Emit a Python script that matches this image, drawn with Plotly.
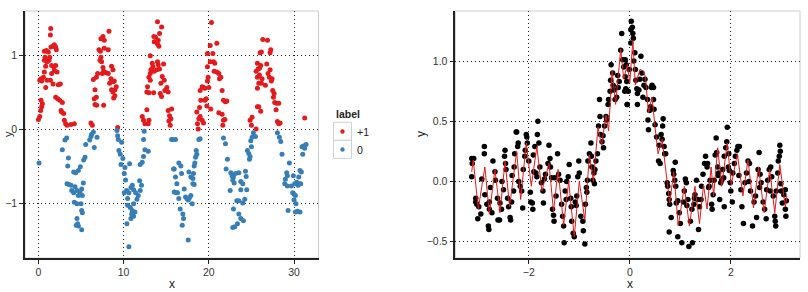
import plotly.graph_objects as go

# ---------------- Left panel data (label +1 / 0) ----------------
pos_x = [0.0, 0.16, 0.27, 0.39, 0.47, 0.31, 0.16, 0.31, 0.39, 0.59, 0.86, 1.02, 0.70, 0.86, 0.70, 0.78,
         0.70, 0.94, 1.17, 1.09, 1.25, 1.02, 1.33, 1.48, 1.72, 1.88, 2.03, 2.11, 1.41, 1.45, 1.56, 1.80,
         2.03, 1.88, 2.19, 1.56, 1.72, 1.41, 2.34, 2.58, 2.03, 2.27, 2.50, 2.81, 2.66, 2.73, 2.97, 3.05,
         3.20, 3.36, 3.83, 4.22,
         6.17, 6.33, 6.64, 6.84, 7.66, 6.56, 6.80, 6.64, 6.45, 6.80, 6.95, 7.23, 7.42, 7.34, 7.58, 7.66,
         7.50, 7.11, 7.27, 7.73, 8.20, 7.34, 7.58, 7.73, 8.28, 7.97, 8.20, 8.52, 8.75, 8.91, 8.36, 8.59,
         8.75, 8.98, 9.14, 8.83, 8.98, 8.75, 8.59, 9.30,
         12.19, 12.34, 12.50, 12.73, 12.97, 12.89, 12.81, 12.73, 12.97, 13.13, 12.97, 13.13, 13.20, 13.44,
         13.36, 13.59, 13.91, 14.06, 14.22, 13.98, 13.13, 13.52, 14.30, 14.45, 14.69, 14.77, 14.84, 15.08,
         15.23, 14.38, 14.53, 13.98, 14.22, 14.06, 13.98, 14.14, 13.75, 13.59, 15.23, 15.39, 15.55, 15.31,
         15.47, 15.63, 14.46, 13.55,
         18.75, 18.67, 18.83, 18.98, 19.22, 19.38, 18.59, 18.91, 19.06, 19.53, 19.69, 19.77, 18.98, 19.22,
         19.53, 19.38, 19.84, 19.92, 20.00, 20.23, 19.84, 20.16, 20.55, 20.70, 20.62, 20.94, 21.17, 21.25,
         21.41, 19.84, 20.47, 20.16, 20.94, 20.31, 21.56, 21.72, 21.95, 22.11, 21.17, 21.56, 21.72, 21.88,
         21.64,
         24.84, 25.08, 25.00, 25.55, 25.70, 25.86, 26.09, 25.70, 25.86, 25.70, 25.55, 25.78, 25.94, 26.09,
         25.70, 25.94, 26.17, 26.25, 26.64, 26.80, 26.95, 27.11, 27.19, 27.34, 27.42, 26.02, 26.17, 26.33,
         26.88, 27.19, 27.27, 27.50, 27.66, 27.58, 27.73, 27.97, 28.20, 27.89, 28.05, 28.20, 28.36, 31.25]
pos_y = [0.13, 0.17, 0.25, 0.30, 0.34, 0.39, 0.66, 0.68, 0.65, 0.70, 0.56, 0.66, 0.77, 0.85, 0.93, 0.97,
         1.05, 1.06, 1.04, 0.93, 0.93, 0.91, 0.97, 1.11, 1.12, 1.14, 1.11, 1.07, 1.27, 1.36, 0.86, 0.84,
         0.86, 0.79, 0.77, 0.75, 0.61, 0.66, 0.60, 0.61, 0.43, 0.41, 0.39, 0.36, 0.25, 0.23, 0.21, 0.12,
         0.07, 0.05, 0.06, 0.07,
         0.08, 0.05, 0.33, 0.32, 0.32, 0.41, 0.43, 0.53, 0.67, 0.70, 0.75, 0.93, 0.91, 0.97, 0.83, 0.78,
         0.75, 1.07, 1.05, 1.09, 1.07, 1.22, 1.25, 1.20, 1.32, 0.76, 0.75, 0.68, 0.64, 0.65, 0.62, 0.53,
         0.50, 0.53, 0.57, 0.42, 0.45, 0.80, 0.85, 0.02,
         0.17, 0.12, 0.07, 0.26, 0.12, 0.07, 0.57, 0.50, 0.49, 0.66, 0.70, 0.75, 0.80, 0.84,
         0.89, 0.78, 0.80, 0.87, 0.81, 0.91, 0.99, 0.49, 0.48, 0.44, 0.88, 0.66, 0.52, 0.56,
         0.50, 0.62, 0.71, 1.45, 1.29, 1.20, 1.15, 1.12, 1.24, 1.18, 0.25, 0.18, 0.14, 0.11,
         0.05, 0.27, 1.38, 1.25,
         0.00, 0.07, 0.14, 0.17, 0.12, 0.08, 0.23, 0.29, 0.39, 0.39, 0.41, 0.31, 0.52, 0.57,
         0.55, 0.56, 0.65, 0.70, 0.56, 0.27, 0.84, 0.91, 0.91, 0.89, 0.78, 0.77, 0.75, 0.68,
         0.70, 1.02, 1.02, 1.13, 1.16, 1.44, 0.52, 0.39, 0.37, 0.38, 0.22, 0.20, 0.12, 0.13,
         0.05,
         0.12, 0.16, 0.05, 0.00, 0.30, 0.30, 0.24, 0.55, 0.62, 0.70, 0.78, 0.81, 0.82, 0.86,
         0.89, 0.73, 0.62, 0.68, 0.59, 0.88, 0.75, 0.70, 0.80, 0.65, 0.68, 1.03, 1.04, 1.21,
         1.20, 1.03, 1.07, 0.52, 0.48, 0.43, 0.36, 0.35, 0.35, 0.26, 0.10, 0.07, 0.08, 0.15]

neg_x = [0.08, 2.81, 3.12, 3.32, 3.52, 3.44, 4.14, 4.38, 4.69, 4.92, 5.31, 5.47, 5.55, 6.02, 6.25, 6.45,
         6.17, 6.56, 6.88, 3.36, 3.59, 3.83, 3.91, 4.14, 4.30, 4.53, 4.69, 4.88, 5.08, 5.27, 5.16, 4.22,
         4.53, 5.00, 5.08, 5.16, 4.53, 4.61, 4.45, 4.69, 5.08,
         9.22, 9.30, 9.38, 9.77, 9.45, 9.61, 9.92, 9.69, 10.70, 10.16, 10.08, 10.23, 10.08, 10.35, 10.62,
         10.86, 11.02, 11.17, 11.41, 11.56, 11.72, 11.95, 12.10, 11.88, 11.95, 12.19, 12.34, 12.50, 12.34,
         12.42, 12.89, 10.47, 10.78, 11.02, 10.94, 11.17, 11.33, 10.86, 10.39, 10.62, 10.47, 11.17,
         15.63, 15.86, 15.94,
         15.78, 16.09, 15.94, 16.09, 16.25, 16.17, 16.33, 16.48, 16.72, 16.80, 16.48, 16.64, 16.95, 17.03,
         16.88, 17.11, 17.27, 17.42, 17.58, 17.73, 17.89, 18.05, 17.58, 17.66, 17.89, 18.13, 18.13, 18.28,
         18.20, 18.28, 18.36, 18.44, 18.59, 18.52, 18.83, 18.98,
         21.72, 21.95, 22.19, 22.03, 22.58, 22.73, 22.89, 22.81, 22.97, 22.50, 23.13, 23.52, 23.75, 23.98,
         23.75, 24.30, 24.38, 24.45, 23.28, 23.52, 23.98, 24.22, 22.89, 23.52, 23.75, 24.06, 23.36, 23.05,
         22.81, 24.53, 24.69, 24.84, 24.77, 25.00, 24.92, 25.08, 25.23, 25.47,
         28.05, 28.28, 28.44, 28.59, 29.45, 29.14, 29.22, 28.98, 28.91, 29.22, 29.30, 29.69, 29.84, 30.00,
         30.16, 30.00, 30.23, 29.92, 30.08, 30.31, 30.55, 30.47, 30.63, 30.78, 30.70, 30.86, 31.02, 30.94,
         31.09, 31.25, 31.41, 30.16, 30.39, 30.70]
neg_y = [-0.46, -0.28, -0.15, -0.12, -0.39, -0.50, -0.58, -0.59, -0.56, -0.51, -0.42, -0.38, -0.21, -0.15,
         -0.07, -0.04, -0.10, -0.25, -0.11, -0.74, -0.75, -0.76, -0.83, -0.86, -0.78, -0.83, -0.90, -0.85,
         -0.81, -0.73, -0.90, -0.99, -1.01, -1.01, -1.10, -1.13, -1.21, -1.28, -1.30, -1.31, -1.36,
         -0.02, -0.09, -0.14, -0.18, -0.29, -0.34, -0.40, -0.48, -0.47, -0.52, -0.60, -0.69, -0.86, -0.83,
         -0.86, -0.79, -0.76, -0.82, -0.86, -0.95, -0.90, -0.83, -0.76, -0.70, -0.48, -0.45, -0.37, -0.28,
         -0.14, -0.03, -0.30, -1.03, -1.06, -1.10, -1.15, -1.18, -1.12, -1.21, -1.28, -1.59, -0.94, -1.01,
         -0.14, -0.54, -0.85,
         -0.14, -0.14, -0.54, -0.65, -0.74, -0.86, -0.86, -0.46, -0.50, -0.60, -0.94, -1.08, -1.15, -1.21,
         -1.30, -0.81, -0.92, -0.94, -0.96, -0.93, -0.90, -1.01, -1.50, -0.58, -0.65, -0.67, -0.74, -0.75,
         -0.60, -0.50, -0.46, -0.38, -0.34, -0.29, -0.14, -0.13,
         -0.12, -0.20, -0.41, -0.54, -0.59, -0.63, -0.65, -0.69, -0.73, -0.83, -0.60, -0.59, -0.71, -0.74,
         -0.82, -0.57, -0.64, -0.82, -0.97, -0.97, -1.00, -0.95, -1.08, -1.15, -1.21, -1.24, -1.28, -1.32,
         -1.33, -0.29, -0.33, -0.37, -0.41, -0.24, -0.16, -0.11, -0.05, -0.10,
         -0.05, -0.11, -0.17, -0.34, -0.46, -0.59, -0.63, -0.68, -0.74, -0.77, -1.10, -0.77, -0.86, -0.88,
         -0.90, -0.96, -1.01, -0.63, -0.74, -0.72, -0.65, -0.76, -0.74, -0.74, -0.56, -0.58, -0.34, -0.24,
         -0.23, -0.26, -0.21, -1.12, -1.11, -1.12]

# ---------------- Right panel data ----------------
pts_x = [-3.13, -3.09, -3.13, -3.12, -3.05, -3.05, -3.03, -3.01, -2.99, -2.95, -2.88, -2.88, -2.87, -2.83,
         -2.80, -2.79, -2.78, -2.78, -2.73, -2.71, -2.67, -2.66, -2.62, -2.61, -2.58, -2.57, -2.54, -2.50,
         -2.48, -2.47, -2.46, -2.45, -2.42, -2.40, -2.37, -2.36, -2.34, -2.30, -2.29, -2.28, -2.25, -2.24,
         -2.22, -2.21, -2.20, -2.17, -2.14, -2.12, -2.08, -2.07, -2.05, -2.04, -2.03, -2.00, -1.97, -1.96,
         -1.93, -1.92, -1.91, -1.88, -1.86, -1.84, -1.83, -1.82, -1.80, -1.78, -1.75, -1.72, -1.71, -1.67,
         -1.62, -1.60, -1.58, -1.57, -1.55, -1.53, -1.51, -1.50, -1.49, -1.43, -1.41, -1.38, -1.35, -1.33,
         -1.31, -1.30, -1.28, -1.25, -1.22, -1.20, -1.17, -1.16, -1.15, -1.12, -1.10, -1.08, -1.05, -1.03,
         -1.01, -1.00, -0.97, -0.93, -0.92, -0.89, -0.88, -0.85, -0.84, -0.83, -0.80, -0.77, -0.76, -0.75,
         -0.73, -0.71, -0.70, -0.67, -0.64, -0.62, -0.59, -0.58, -0.55, -0.52, -0.50, -0.47, -0.46, -0.43,
         -0.42, -0.39, -0.38, -0.37, -0.34, -0.31, -0.29, -0.26, -0.23, -0.21, -0.18, -0.16, -0.14, -0.12,
         -0.10, -0.08, -0.05, -0.60,
         -0.09, -0.07, -0.09, -0.06, -0.07, -0.05, -0.03, -0.01, 0.02, 0.03, 0.05, 0.06, 0.07, 0.02, 0.10,
         0.11, 0.12, 0.14, 0.15, 0.15, 0.18, 0.22, 0.20, 0.26, 0.28, 0.30, 0.32, 0.35, 0.36, 0.37, 0.39,
         0.43, 0.44, 0.47, 0.47, 0.48, 0.50, 0.53, 0.57, 0.60, 0.62, 0.64, 0.65, 0.66, 0.68, 0.69, 0.71,
         0.74, 0.75, 0.77, 0.78, 0.79, 0.82, 0.78, 0.86, 0.87, 0.89, 0.90, 0.91, 0.95, 0.95, 0.98, 1.00,
         1.03, 1.06, 1.08, 1.10, 1.12, 1.15, 1.17, 1.20, 1.23, 1.24, 1.27, 1.28, 1.29, 1.32, 1.36, 1.38,
         1.41, 1.42, 1.45, 1.48, 1.50, 1.53, 1.54, 1.57, 1.59, 1.62, 1.63, 1.65, 1.67, 1.69, 1.71, 1.72,
         1.74, 1.76, 1.78, 1.80, 1.82, 1.84, 1.86, 1.87, 1.90, 1.92, 1.93, 1.96, 1.97, 1.99, 2.00, 2.03,
         2.04, 2.07, 2.09, 2.12, 2.14, 2.17, 2.20, 2.22, 2.25, 2.28, 2.31, 2.34, 2.37, 2.39, 2.43, 2.46,
         2.49, 2.51, 2.54, 2.56, 2.58, 2.60, 2.64, 2.67, 2.70, 2.71, 2.73, 2.76, 2.79, 2.81, 2.84, 2.87,
         2.88, 2.89, 2.90, 2.93, 2.94, 2.96, 2.97, 2.98, 3.00, 3.02, 3.05, 3.08, 3.08, 3.09, 3.10, 1.87,
         -2.93, -2.76, -2.53, -2.33, -2.11, -1.90, -1.69, -1.46, -1.26, -1.06, -0.86, -0.69, -0.53,
         -0.33, -0.24, 0.08, 0.24, 0.41, 0.58, 0.92, 1.13, 1.34, 1.56, 1.75, 1.95, 2.16, 2.36,
         2.57, 2.78, 2.99]
pts_y = [0.19, 0.19, 0.04, 0.15, -0.17, -0.14, -0.19, -0.31, -0.21, -0.27, 0.29, 0.23, -0.11, -0.19,
         -0.37, -0.40, -0.17, -0.23, -0.26, 0.17, 0.08, 0.01, -0.14, -0.32, -0.32, -0.18, -0.23, -0.07,
         0.21, 0.26, 0.15, 0.10, -0.14, -0.21, -0.30, -0.32, -0.17, -0.08, 0.12, 0.23, 0.41, 0.41,
         0.29, 0.32, 0.00, -0.04, -0.08, -0.22, 0.21, 0.26, 0.39, 0.37, 0.32, 0.17, -0.09, -0.17,
         -0.18, -0.23, 0.22, 0.29, 0.07, 0.04, 0.39, 0.50, 0.32, 0.12, -0.01, -0.08, -0.18, 0.06,
         0.15, 0.30, 0.19, 0.12, 0.03, -0.23, -0.28, -0.33, 0.03, 0.23, 0.06, 0.01, -0.19, -0.29,
         -0.37, -0.51, -0.08, 0.00, 0.04, 0.14, -0.14, -0.21, -0.33, -0.43, -0.46, -0.17, -0.12, 0.04,
         0.17, 0.07, -0.29, -0.33, -0.41, -0.52, -0.19, -0.09, 0.01, 0.17, 0.23, 0.32, 0.21, 0.12,
         0.01, 0.07, -0.02, 0.17, 0.23, 0.46, 0.54, 0.39, 0.33, 0.28, 0.46, 0.54, 0.51, 0.64,
         0.68, 0.75, 0.84, 0.97, 0.90, 0.76, 0.68, 0.70, 0.78, 0.83, 1.09, 1.23, 1.01, 0.95,
         0.75, 0.77, 0.64, 0.68,
         1.01, 0.97, 0.87, 0.83, 0.76, 0.64, 0.75, 0.93, 1.26, 1.33, 1.28, 1.23, 1.19, 1.15, 1.07,
         0.93, 0.84, 0.77, 0.73, 0.64, 0.76, 1.04, 0.85, 0.70, 0.80, 0.85, 0.78, 0.68, 0.51, 0.43, 0.59,
         0.78, 0.80, 0.78, 0.68, 0.60, 0.47, 0.37, 0.17, 0.15, 0.39, 0.35, 0.46, 0.52, 0.29, 0.23, 0.23,
         -0.01, -0.04, -0.10, -0.15, -0.19, -0.30, -0.42, 0.09, 0.06, 0.01, 0.16, -0.04, -0.16, -0.46, -0.26, -0.35,
         -0.51, -0.17, -0.08, 0.02, -0.01, -0.15, -0.54, -0.33, -0.23, -0.51, -0.19, -0.14, -0.11, 0.01, -0.40, -0.21,
         -0.15, -0.04, 0.06, 0.15, 0.21, 0.12, 0.15, -0.04, 0.01, -0.19, -0.23, -0.11, 0.01, 0.22, 0.36, 0.24,
         0.12, 0.07, -0.15, -0.01, 0.01, 0.10, 0.03, 0.21, 0.28, 0.33, 0.45, 0.23, 0.09, -0.01, -0.08, -0.17,
         0.07, 0.15, 0.21, 0.26, 0.29, 0.29, -0.07, -0.21, -0.35, -0.01, 0.07, 0.17, 0.15, -0.08, -0.37, -0.17,
         -0.12, -0.30, 0.10, 0.24, 0.06, -0.01, -0.17, -0.23, -0.31, -0.07, 0.01, 0.10, 0.12, 0.04, -0.12, -0.29,
         -0.33, -0.37, -0.08, 0.07, 0.17, 0.21, 0.30, 0.25, -0.08, -0.18, -0.11, -0.07, -0.23, -0.29, -0.16, -0.21,
         0.02, -0.05, 0.00, 0.05, 0.10, 0.08, 0.02, -0.12, -0.15, -0.20, -0.05, 0.10, 0.38,
         0.80, 0.88, 1.00, 0.90, 0.62, 0.30, -0.18, -0.20, -0.15, -0.05, 0.05, 0.12, 0.05, 0.00,
         -0.05, -0.08, -0.02]

fit_x = [-3.13, -3.10, -3.00, -2.87, -2.78, -2.67, -2.57, -2.47, -2.38, -2.24, -2.16, -2.05, -1.95,
         -1.84, -1.74, -1.60, -1.51, -1.42, -1.31, -1.21, -1.10, -1.00, -0.89, -0.80, -0.72, -0.63,
         -0.56, -0.47, -0.42, -0.35, -0.28, -0.18, -0.12, -0.05, 0.00, 0.06, 0.11, 0.20, 0.26, 0.31,
         0.37, 0.44, 0.50, 0.56, 0.64, 0.70, 0.75, 0.79, 0.87, 0.96, 1.08, 1.18, 1.29, 1.38, 1.46,
         1.53, 1.61, 1.66, 1.74, 1.82, 1.93, 2.01, 2.13, 2.24, 2.34, 2.45, 2.55, 2.66, 2.77, 2.87,
         2.97, 3.08, 3.11]
fit_y = [0.08, 0.18, -0.23, 0.12, -0.27, 0.10, -0.26, 0.17, -0.21, 0.25, -0.15, 0.32, -0.04,
         0.29, -0.08, 0.15, -0.25, 0.10, -0.36, 0.00, -0.46, 0.00, -0.32, 0.22, 0.00, 0.45,
         0.30, 0.55, 0.42, 0.92, 0.64, 1.10, 0.85, 0.97, 0.82, 1.17, 0.80, 0.93, 0.92, 0.87,
         0.57, 0.70, 0.45, 0.23, 0.35, 0.15, -0.04, -0.18, 0.08, -0.37, -0.04, -0.37, -0.04, -0.35, -0.03,
         -0.23, 0.12, -0.12, 0.28, -0.04, 0.32, -0.03, 0.23, -0.12, 0.18, -0.22, 0.12, -0.26, 0.10, -0.26,
         0.14, -0.21, -0.12]

left_xticks = [0, 10, 20, 30]
left_yticks = [-1, 0, 1]
right_xticks = [-2, 0, 2]
right_yticks = [-0.5, 0.0, 0.5, 1.0]
legend_title = "label"
legend_labels = ["+1", "0"]

RED = "#E41A1C"
BLUE = "#377EB8"
FONT = "Liberation Sans"
W, H = 808, 292

def px(x):
    return x / W

def py(y):
    return 1 - y / H

fig = go.Figure()
fig.add_trace(go.Scatter(x=pos_x, y=pos_y, mode="markers", xaxis="x", yaxis="y",
                         marker=dict(color=RED, size=5), showlegend=False))
fig.add_trace(go.Scatter(x=neg_x, y=neg_y, mode="markers", xaxis="x", yaxis="y",
                         marker=dict(color=BLUE, size=5), showlegend=False))
fig.add_trace(go.Scatter(x=pts_x, y=pts_y, mode="markers", xaxis="x2", yaxis="y2",
                         marker=dict(color="black", size=5.5), showlegend=False))
fig.add_trace(go.Scatter(x=fit_x, y=fit_y, mode="lines", xaxis="x2", yaxis="y2",
                         line=dict(color=RED, width=1), showlegend=False))

axis_common = dict(showgrid=True, gridcolor="#222222", gridwidth=1, griddash="1px,3px",
                   zeroline=False, showline=True, linecolor="#222222", linewidth=1.5,
                   ticks="outside", ticklen=4, tickcolor="#222222", tickwidth=1,
                   tickfont=dict(family=FONT, size=10.5, color="#333333"), mirror=False)

ydom = [py(258), py(11)]
fig.update_layout(
    width=W, height=H, margin=dict(l=0, r=0, t=0, b=0),
    paper_bgcolor="white", plot_bgcolor="white",
    font=dict(family=FONT),
    xaxis=dict(domain=[px(25), px(318.5)], range=[-1.57, 32.87], tickvals=left_xticks,
               anchor="y", **axis_common),
    yaxis=dict(domain=ydom, range=[-1.743, 1.595], tickvals=left_yticks,
               anchor="x", **axis_common),
    xaxis2=dict(domain=[px(455.3), px(800)], range=[-3.455, 3.37], tickvals=right_xticks,
                anchor="y2", **axis_common),
    yaxis2=dict(domain=ydom, range=[-0.636, 1.416], tickvals=right_yticks, tickformat=".1f",
                anchor="x2", **axis_common),
)

shapes = []
# light panel borders (top & right)
for xa, ya in (("x", "y"), ("x2", "y2")):
    shapes.append(dict(type="rect", xref=f"{xa} domain", yref=f"{ya} domain",
                       x0=0, x1=1, y0=0, y1=1, line=dict(color="#cccccc", width=1),
                       layer="below"))
# legend key boxes
for top in (122.3, 140.3):
    shapes.append(dict(type="rect", xref="paper", yref="paper",
                       x0=px(333.5), x1=px(351.5), y0=py(top + 18), y1=py(top),
                       line=dict(color="#d0d0d0", width=1), fillcolor="white"))
# legend key dots
for cy, col in ((131.5, RED), (149.5, BLUE)):
    shapes.append(dict(type="circle", xref="paper", yref="paper",
                       x0=px(342.5 - 2.2), x1=px(342.5 + 2.2), y0=py(cy + 2.2), y1=py(cy - 2.2),
                       line=dict(color=col, width=0), fillcolor=col))
fig.update_layout(shapes=shapes)

ann = []
ann.append(dict(text="x", x=px(172), y=py(284), xref="paper", yref="paper", showarrow=False,
                font=dict(family=FONT, size=12, color="#222222"), xanchor="center", yanchor="middle"))
ann.append(dict(text="x", x=px(630), y=py(284), xref="paper", yref="paper", showarrow=False,
                font=dict(family=FONT, size=12, color="#222222"), xanchor="center", yanchor="middle"))
ann.append(dict(text="y", x=0, y=py(134), xref="paper", yref="paper", showarrow=False,
                textangle=-90, font=dict(family=FONT, size=11, color="#222222"),
                xanchor="left", yanchor="middle"))
ann.append(dict(text="y", x=px(421), y=py(134), xref="paper", yref="paper", showarrow=False,
                textangle=-90, font=dict(family=FONT, size=12, color="#222222"),
                xanchor="center", yanchor="middle"))
ann.append(dict(text="<b>" + legend_title + "</b>", x=px(334), y=py(114), xref="paper", yref="paper",
                showarrow=False, font=dict(family=FONT, size=10.5, color="#222222"),
                xanchor="left", yanchor="middle"))
for lab, cy in zip(legend_labels, (131.5, 149.5)):
    ann.append(dict(text=lab, x=px(354.5), y=py(cy), xref="paper", yref="paper", showarrow=False,
                    font=dict(family=FONT, size=10.5, color="#222222"),
                    xanchor="left", yanchor="middle"))
fig.update_layout(annotations=ann)

fig.write_html("out.html")
